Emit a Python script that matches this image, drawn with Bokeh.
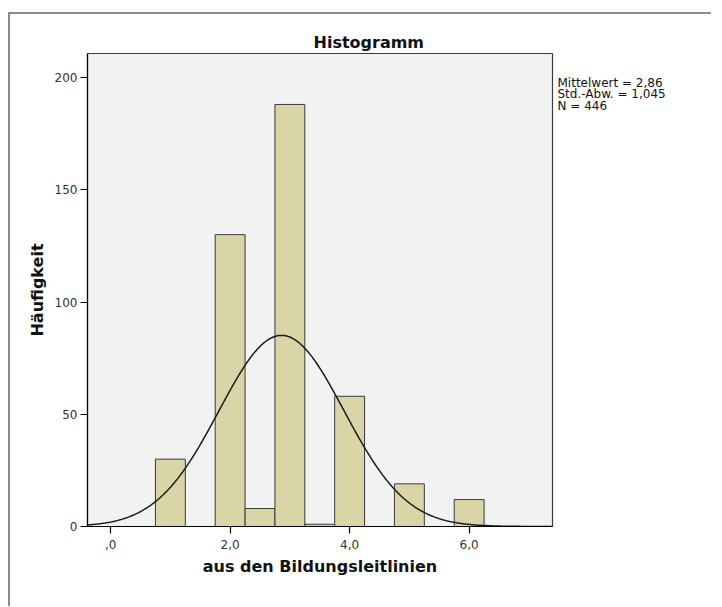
import numpy as np
from bokeh.plotting import figure
from bokeh.layouts import row
from bokeh.models import FixedTicker, Range1d
from bokeh.core.properties import value
from bokeh.embed import file_html
from bokeh.resources import INLINE

# ---- data ----
bin_left = [0.75, 1.75, 2.25, 2.75, 3.25, 3.75, 4.75, 5.75]
bin_right = [1.25, 2.25, 2.75, 3.25, 3.75, 4.25, 5.25, 6.25]
counts = [30, 130, 8, 188, 1, 58, 19, 12]
mean = 2.86
std = 1.045
n_total = 446
bin_width = 0.5
x_ticks = [0, 2, 4, 6]
x_tick_labels = [",0", "2,0", "4,0", "6,0"]
y_ticks = [0, 50, 100, 150, 200]
stats_lines = ["Mittelwert = 2,86", "Std.-Abw. = 1,045", "N = 446"]
title_text = "Histogramm"
x_label = "aus den Bildungsleitlinien"
y_label = "Häufigkeit"

# ---- layout ----
FW, FH = 463, 471
BL, BT, BR, BB = 77, 39, 4, 82
x0, x1 = -0.387, 7.395
y0, y1 = 0, 210.7
BORDER = "2px solid #8c8c8c"

p = figure(frame_width=FW, frame_height=FH,
           min_border_left=BL, min_border_top=BT, min_border_right=BR, min_border_bottom=BB,
           x_range=Range1d(x0, x1), y_range=Range1d(y0, y1),
           output_backend="svg", toolbar_location=None)
p.margin = (12, 0, 0, 8)
p.styles = {"border-left": BORDER, "border-top": BORDER}

p.background_fill_color = "#f2f2f2"
p.border_fill_color = "white"
p.outline_line_color = "#3c3c3c"
p.outline_line_width = 1.2
p.xgrid.visible = False
p.ygrid.visible = False

p.quad(left=bin_left, right=bin_right, top=counts, bottom=0,
       fill_color="#dad5a6", line_color="#3a3a3a", line_width=1)

# normal curve from the displayed statistics
xs = np.linspace(x0, x1, 400)
ys = n_total * bin_width / (std * np.sqrt(2 * np.pi)) * np.exp(-0.5 * ((xs - mean) / std) ** 2)
p.line(xs, ys, line_color="#1a1a1a", line_width=1.5)

# axes
p.xaxis.ticker = FixedTicker(ticks=x_ticks)
p.xaxis.major_label_overrides = {t: l for t, l in zip(x_ticks, x_tick_labels)}
p.yaxis.ticker = FixedTicker(ticks=y_ticks)
for ax in (p.xaxis[0], p.yaxis[0]):
    ax.major_tick_in = 0
    ax.major_tick_out = 7
    ax.minor_tick_line_color = None
    ax.axis_line_color = "black"
    ax.axis_line_width = 1.2
    ax.major_tick_line_color = "black"
    ax.major_tick_line_width = 1.2
    ax.major_label_text_font = "DejaVu Sans"
    ax.major_label_text_font_size = "12px"
    ax.major_label_text_color = "#333333"
    ax.axis_label_text_font = "DejaVu Sans"
    ax.axis_label_text_font_size = "16px"
    ax.axis_label_text_font_style = "bold"
    ax.axis_label_text_color = "#111111"
p.xaxis.axis_label = x_label
p.yaxis.axis_label = y_label
p.xaxis.major_label_standoff = 6
p.yaxis.major_label_standoff = 3
p.xaxis.axis_label_standoff = 5
p.yaxis.axis_label_standoff = 5

# title, centred over the whole chart as in the reference
p.title.text = title_text
p.title.align = "left"
p.title.offset = 226
p.title.standoff = 3
p.title.text_font = "DejaVu Sans"
p.title.text_font_size = "16px"
p.title.text_font_style = "bold"
p.title.text_color = "#111111"

# side panel with the statistics text
SW, SH = 157, BT + FH + BB
s = figure(frame_width=SW, frame_height=SH, min_border=0,
           x_range=Range1d(0, SW), y_range=Range1d(SH, 0),
           output_backend="svg", toolbar_location=None)
s.margin = (12, 0, 0, 0)
s.styles = {"border-top": BORDER}
s.axis.visible = False
s.xgrid.visible = False
s.ygrid.visible = False
s.outline_line_color = None
s.background_fill_color = "white"
s.border_fill_color = "white"
s.text(x=[3] * len(stats_lines), y=[29 + 11.5 * i for i in range(len(stats_lines))],
       text=stats_lines, text_align="left", text_baseline="alphabetic",
       text_font=value("DejaVu Sans"), text_font_size="12px", text_color="#111111")

layout = row(p, s)
open("out.html", "w").write(file_html(layout, INLINE))
